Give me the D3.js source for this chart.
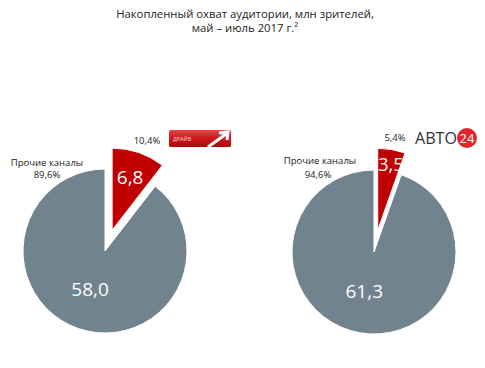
<!DOCTYPE html>
<html><head><meta charset="utf-8">
<script src="https://cdn.jsdelivr.net/npm/d3@7"></script>
<style>body{margin:0;background:#fff}svg{display:block}text{font-family:"Open Sans","Noto Sans",sans-serif}</style>
</head><body><svg id="c" width="485" height="368"></svg>
<script>
const titleLines = ["Накопленный охват аудитории, млн зрителей,", "май – июль 2017 г.²"];
const channels = ["Драйв", "Авто24"];
const channelValues = [6.8, 3.5];
const otherValues = [58.0, 61.3];
const channelShares = ["10,4%", "5,4%"];
const otherShares = ["89,6%", "94,6%"];
const otherLabel = "Прочие каналы";

const svg = d3.select("#c");
const fmt = v => d3.format(".1f")(v).replace(".", ",");
const gray = "#71838f", red = "#c00000";

svg.append("text").attr("x", 245).attr("y", 18).attr("text-anchor", "middle")
  .attr("font-size", 11.3).attr("fill", "#222").text(titleLines[0]);
svg.append("text").attr("x", 245).attr("y", 32).attr("text-anchor", "middle")
  .attr("font-size", 11.3).attr("fill", "#222").text(titleLines[1]);

const centers = [[105, 251], [374, 252]];
const R = 82, explode = 22;
const pie = d3.pie().sort(null);
const arc = d3.arc().innerRadius(0).outerRadius(R);

channels.forEach((ch, i) => {
  const [cx, cy] = centers[i];
  const arcs = pie([channelValues[i], otherValues[i]]);
  const g = svg.append("g").attr("transform", `translate(${cx},${cy})`);
  arcs.forEach((a, j) => {
    const mid = (a.startAngle + a.endAngle) / 2;
    const off = j === 0 ? explode : 0;
    const dx = Math.sin(mid) * off, dy = -Math.cos(mid) * off;
    g.append("path").attr("d", arc(a)).attr("fill", j === 0 ? red : gray)
      .attr("stroke", "#fff").attr("stroke-width", 1)
      .attr("transform", `translate(${dx},${dy})`);
  });
  const a0 = arcs[0], a1 = arcs[1];
  const m0 = (a0.startAngle + a0.endAngle) / 2;
  const rr0 = i === 0 ? R * 0.68 + explode : R * 0.82 + explode;
  const ang0 = i === 0 ? m0 : m0 + 0.02;
  svg.append("text").attr("x", cx + Math.sin(ang0) * rr0).attr("y", cy - Math.cos(ang0) * rr0 + 7)
    .attr("text-anchor", "middle").attr("font-size", i === 0 ? 19 : 18).attr("fill", "#fff").text(fmt(channelValues[i]));
  const m1 = (a1.startAngle + a1.endAngle) / 2;
  const rr1 = 40;
  svg.append("text").attr("x", cx + Math.sin(m1) * rr1 - (i === 0 ? 2 : 3)).attr("y", cy - Math.cos(m1) * rr1 + 7)
    .attr("text-anchor", "middle").attr("font-size", 19).attr("fill", "#fff").text(fmt(otherValues[i]));
});

const lab = (x, y, t) => svg.append("text").attr("x", x).attr("y", y).attr("text-anchor", "middle")
  .attr("font-size", 9.5).attr("fill", "#222").text(t);
lab(47, 166, otherLabel); lab(47, 178, otherShares[0]);
lab(320, 164, otherLabel); lab(318, 178, otherShares[1]);
lab(147, 144, channelShares[0]); lab(395, 141, channelShares[1]);

// Драйв logo
const grad = svg.append("defs").append("linearGradient").attr("id", "dg").attr("x1", 0).attr("y1", 0).attr("x2", 0).attr("y2", 1);
grad.append("stop").attr("offset", "0%").attr("stop-color", "#e8484a");
grad.append("stop").attr("offset", "45%").attr("stop-color", "#d3181d");
grad.append("stop").attr("offset", "100%").attr("stop-color", "#a80a0e");
svg.append("rect").attr("x", 169).attr("y", 130).attr("width", 62).attr("height", 17).attr("rx", 1.5).attr("fill", "url(#dg)");
svg.append("text").attr("x", 173).attr("y", 141).attr("font-size", 5.5).attr("fill", "#fbdada").text("ДРАЙВ");
svg.append("path").attr("d", "M208,147 L226,134 M219,133 L228,132 L227,140").attr("stroke", "#fff").attr("stroke-width", 3).attr("fill", "none");

// Авто24 logo
svg.append("text").attr("x", 415).attr("y", 144).attr("font-size", 16.5).attr("font-family", "Liberation Sans, Arial, sans-serif")
  .attr("textLength", 42).attr("lengthAdjust", "spacingAndGlyphs").attr("fill", "#333").text("АВТО");
svg.append("circle").attr("cx", 467).attr("cy", 138).attr("r", 10).attr("fill", "#e0262b");
svg.append("text").attr("x", 467).attr("y", 143).attr("text-anchor", "middle").attr("font-size", 13)
  .attr("font-family", "Liberation Sans, Arial, sans-serif").attr("fill", "#fff").text("24");
</script></body></html>
